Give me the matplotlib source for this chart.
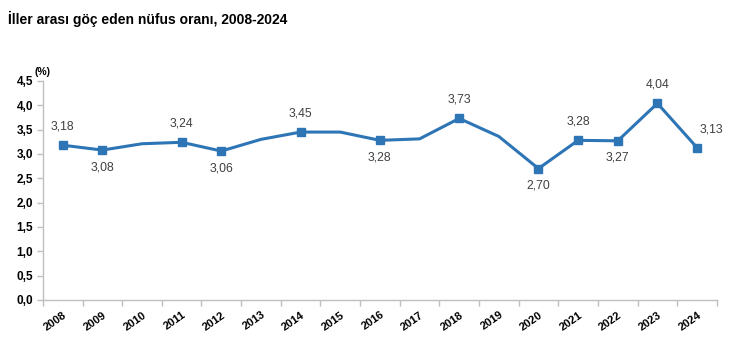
import matplotlib
matplotlib.use("Agg")
import matplotlib.pyplot as plt
from matplotlib.ticker import FixedLocator, FuncFormatter

plt.rcParams["font.family"] = ["Liberation Sans", "DejaVu Sans"]

# Yıllar ve oranlar (%)
years = [str(y) for y in range(2008, 2025)]
rates = [3.18, 3.08, 3.21, 3.24, 3.06, 3.30, 3.45, 3.45, 3.28, 3.31,
         3.73, 3.36, 2.70, 3.28, 3.27, 4.04, 3.13]
# etiketli yıllar ve konumu: "u" üst, "a" alt, "r" sağ üst
labelled = {"2008": "u", "2009": "a", "2011": "u", "2012": "a", "2014": "u",
            "2016": "a", "2018": "u", "2020": "a", "2021": "u", "2022": "a",
            "2023": "u", "2024": "r"}
yticks = [0, 0.5, 1.0, 1.5, 2.0, 2.5, 3.0, 3.5, 4.0, 4.5]

BLUE = "#2E75B6"
GRID = "#BFBFBF"
TXT = "#404040"

fig = plt.figure(figsize=(7.53, 3.46), dpi=100)
ax = fig.add_axes([0.057, 0.133, 0.895, 0.633])

x = list(range(len(years)))
ax.plot(x, rates, color=BLUE, linewidth=2.2, zorder=2)
mx = [i for i, y in enumerate(years) if y in labelled]
ax.plot(mx, [rates[i] for i in mx], linestyle="none", marker="s",
        markersize=5.5, color=BLUE, zorder=3)

for i in mx:
    pos = labelled[years[i]]
    txt = f"{rates[i]:.2f}".replace(".", ",")
    if pos == "u":
        off, va = (0, 9), "bottom"
    elif pos == "a":
        off, va = (0, -8), "top"
    else:
        off, va = (10, 9), "bottom"
    ax.annotate(txt, (i, rates[i]), xytext=off, textcoords="offset points",
                ha="center", va=va, fontsize=8.8, color=TXT)

ax.set_xlim(-0.5, len(years) - 0.5)
ax.set_ylim(0, 4.5)
ax.set_yticks(yticks)
ax.yaxis.set_major_formatter(FuncFormatter(lambda v, _p: f"{v:.1f}".replace(".", ",")))

# kategori sınırlarında tik çizgisi, etiketler ortada
ax.xaxis.set_major_locator(FixedLocator(x))
ax.set_xticklabels(years, rotation=35, ha="right", rotation_mode="anchor",
                   fontsize=8, fontweight="bold", color="#000000")
ax.xaxis.set_minor_locator(FixedLocator([i - 0.5 for i in range(len(years) + 1)]))
ax.tick_params(axis="x", which="major", length=0, pad=7)
ax.tick_params(axis="x", which="minor", length=4, color=GRID, width=1)
ax.tick_params(axis="y", length=4, color=GRID, width=1, labelsize=8.5, pad=3)
for lab in ax.get_yticklabels():
    lab.set_fontweight("bold")

for side in ("top", "right"):
    ax.spines[side].set_visible(False)
for side in ("left", "bottom"):
    ax.spines[side].set_color(GRID)
    ax.spines[side].set_linewidth(1)

ax.text(-0.5, 4.58, "(%)", fontsize=7.5, fontweight="bold", ha="center",
        va="bottom", transform=ax.transData)

fig.text(0.011, 0.945, "İller arası göç eden nüfus oranı, 2008-2024",
         fontsize=10, fontweight="bold", ha="left", va="center")

fig.savefig("out.png", dpi=100)
